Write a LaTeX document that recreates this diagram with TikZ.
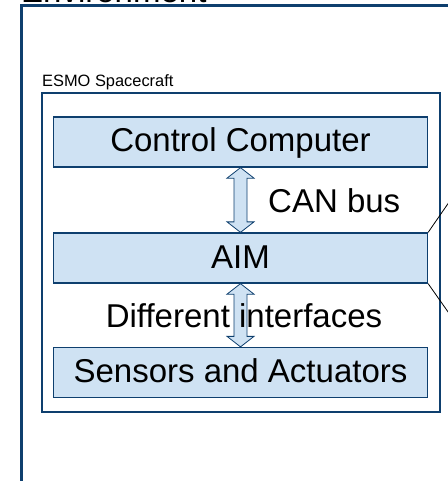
\documentclass[tikz,border=0pt]{standalone}
\usepackage{fontspec}
\setmainfont{Liberation Sans}
\usetikzlibrary{calc}
\definecolor{navy}{RGB}{14,63,110}
\definecolor{lblue}{RGB}{207,226,243}
\begin{document}
\begin{tikzpicture}[x=1pt,y=-1pt,
  box/.style={draw=navy,line width=1.3pt,fill=lblue,minimum width=374pt,minimum height=50pt,inner sep=0pt,
    text height=24pt,text depth=4pt,font=\fontsize{33}{36}\selectfont},
  arr/.style={draw=navy,line width=0.8pt,fill=lblue,line join=miter},
  big/.style={font=\fontsize{33}{36}\selectfont,inner sep=0pt},
]
\useasboundingbox (0,0) rectangle (447,481);
% environment
\draw[navy,line width=3pt] (21.5,500) -- (21.5,6) -- (470,6);
\node[big,anchor=base west] (env) at (21,3) {Environment};
% spacecraft
\draw[navy,line width=2pt] (42,93) rectangle (440,412);
\node[anchor=base west,inner sep=0pt,font=\fontsize{16.4}{18}\selectfont] (esmo) at (42,87) {ESMO Spacecraft};
% boxes
\node[box] (cc) at (240.5,142) {Control Computer};
\node[box] (aim) at (240.5,258) {AIM};
\node[box] (sa) at (240.5,372.5) {Sensors and Actuators};
% arrows
\draw[arr] let \p1=(cc.south), \p2=(aim.north) in
  (\x1,\y1) -- (\x1+13.5pt,\y1-10.5pt) -- (\x1+6.5pt,\y1-10.5pt) -- (\x1+6.5pt,\y2+10.5pt) -- (\x1+13.5pt,\y2+10.5pt)
  -- (\x1,\y2) -- (\x1-13.5pt,\y2+10.5pt) -- (\x1-6.5pt,\y2+10.5pt) -- (\x1-6.5pt,\y1-10.5pt) -- (\x1-13.5pt,\y1-10.5pt) -- cycle;
\draw[arr] let \p1=(aim.south), \p2=(sa.north) in
  (\x1,\y1) -- (\x1+13.5pt,\y1-10.5pt) -- (\x1+6.5pt,\y1-10.5pt) -- (\x1+6.5pt,\y2+10.5pt) -- (\x1+13.5pt,\y2+10.5pt)
  -- (\x1,\y2) -- (\x1-13.5pt,\y2+10.5pt) -- (\x1-6.5pt,\y2+10.5pt) -- (\x1-6.5pt,\y1-10.5pt) -- (\x1-13.5pt,\y1-10.5pt) -- cycle;
\node[big,anchor=base west] (can) at (268,212) {CAN bus};
\node[big,anchor=base] (diff) at (244,327) {Different interfaces};
% callout lines
\coordinate (c1) at (455,193.5);
\coordinate (c2) at (455,321.8);
\draw[black,line width=0.8pt] (aim.north east) -- (c1);
\draw[black,line width=0.8pt] (aim.south east) -- (c2);
\end{tikzpicture}
\end{document}
